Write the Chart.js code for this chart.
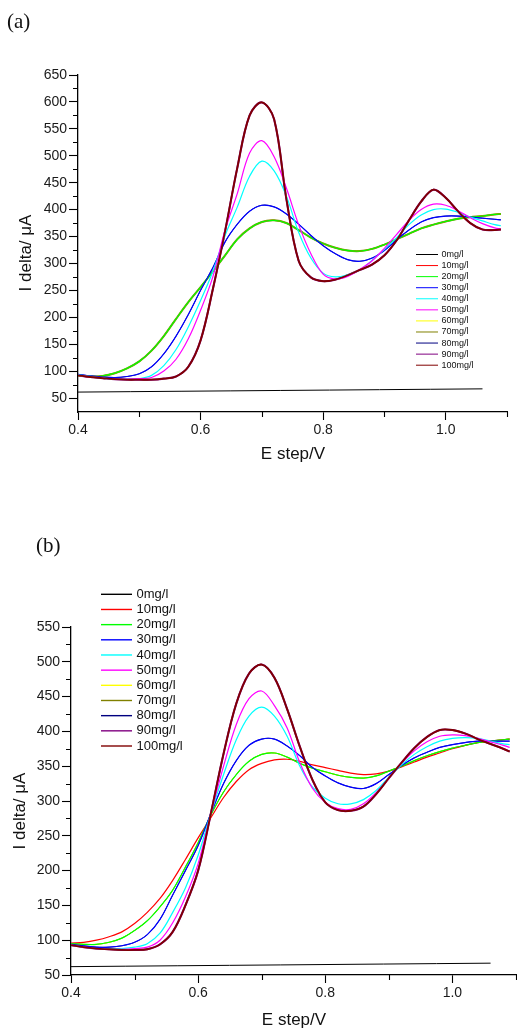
<!DOCTYPE html>
<html>
<head>
<meta charset="utf-8">
<script src="https://cdn.jsdelivr.net/npm/chart.js@4.4.1/dist/chart.umd.min.js"></script>
<style>
  html, body { margin: 0; padding: 0; background: #fff; }
  .wrap { position: relative; width: 517px; height: 1030px; overflow: hidden; }
  .wrap canvas { position: absolute; left: 0; }
  #chart-a { top: 0; }
  #chart-b { top: 520px; }
</style>
</head>
<body>
<div class="wrap">
  <canvas id="chart-a" width="517" height="480"></canvas>
  <canvas id="chart-b" width="517" height="510"></canvas>
</div>
<script>
// E step (V) sample points shared by all curves
const potentials = [0.40, 0.42, 0.44, 0.46, 0.48, 0.50, 0.52, 0.54, 0.56, 0.58, 0.60, 0.62, 0.64, 0.66, 0.68, 0.70, 0.72, 0.74,
  0.76, 0.78, 0.80, 0.82, 0.84, 0.86, 0.88, 0.90, 0.92, 0.94, 0.96, 0.98, 1.00, 1.02, 1.04, 1.06, 1.08, 1.09];
const baselineX = [0.40, 1.06];

const concLabels = ["0mg/l", "10mg/l", "20mg/l", "30mg/l", "40mg/l", "50mg/l", "60mg/l", "70mg/l", "80mg/l", "90mg/l", "100mg/l"];
const concColors = ["#000000", "#ff0000", "#00ff00", "#0000ff", "#00ffff", "#ff00ff", "#ffff00", "#808000", "#000080", "#800080", "#800000"];

// panel (a), I delta (uA)
const aBase = [61, 67];
const a20 = [92, 90, 91, 96, 105, 118, 138, 165, 197, 228, 256, 285, 315, 345, 365, 377, 380, 375,
  362, 348, 337, 329, 324, 323, 327, 335, 345, 355, 365, 372, 378, 383, 386, 388, 391, 392];
const a30 = [94, 91, 89, 88, 90, 95, 108, 132, 165, 205, 250, 292, 340, 373, 397, 408, 405, 392,
  373, 352, 333, 318, 307, 304, 310, 324, 344, 362, 377, 385, 388, 388, 386, 384, 382, 381];
const a40 = [93, 90, 87, 85, 85, 86, 92, 110, 140, 182, 231, 285, 352, 405, 462, 490, 472, 425,
  358, 310, 282, 275, 279, 288, 306, 326, 348, 372, 390, 400, 401, 395, 386, 379, 372, 370];
const a50 = [92, 89, 87, 85, 85, 86, 88, 100, 122, 160, 213, 275, 362, 430, 505, 528, 498, 440,
  372, 318, 280, 271, 276, 289, 305, 328, 354, 380, 400, 410, 408, 398, 385, 374, 366, 364];
const a100 = [92, 89, 87, 85, 84, 84, 84, 86, 90, 108, 157, 252, 360, 478, 575, 599, 568, 420,
  305, 274, 267, 270, 278, 288, 298, 315, 343, 380, 415, 437, 422, 397, 375, 363, 362, 363];

// panel (b), I delta (uA)
const bBase = [62, 67];
const b10 = [96, 97, 100, 105, 112, 124, 140, 160, 186, 216, 247, 276, 305, 328, 345, 354, 359, 360,
  357, 352, 348, 344, 340, 338, 339, 343, 349, 356, 363, 369, 375, 380, 384, 386, 388, 389];
const b20 = [95, 94, 94, 97, 103, 114, 128, 148, 172, 205, 240, 280, 313, 338, 357, 367, 369, 363,
  354, 347, 342, 337, 334, 333, 336, 343, 350, 358, 365, 371, 376, 380, 384, 386, 388, 389];
const b30 = [94, 92, 90, 90, 92, 97, 108, 130, 165, 200, 236, 282, 325, 358, 380, 389, 389, 379,
  365, 348, 336, 326, 320, 318, 325, 338, 351, 362, 370, 377, 381, 384, 386, 386, 386, 386];
const b40 = [93, 90, 88, 88, 88, 90, 95, 110, 140, 175, 222, 282, 338, 388, 422, 435, 422, 393,
  350, 320, 304, 296, 296, 302, 315, 334, 352, 367, 378, 386, 390, 391, 390, 386, 382, 381];
const b50 = [93, 90, 88, 87, 87, 88, 90, 100, 125, 162, 210, 282, 350, 410, 447, 458, 437, 405,
  355, 318, 298, 289, 288, 296, 312, 333, 354, 372, 385, 393, 395, 394, 390, 385, 380, 377];
const b100 = [93, 90, 88, 87, 86, 86, 87, 94, 112, 150, 200, 282, 368, 440, 483, 496, 477, 432,
  378, 330, 298, 287, 286, 292, 310, 333, 355, 376, 392, 402, 402, 397, 389, 382, 375, 371];

// ticks
const xTicks = [0.4, 0.6, 0.8, 1.0];
const xMinor = [0.5, 0.7, 0.9, 1.1];
const yTicksA = [50, 100, 150, 200, 250, 300, 350, 400, 450, 500, 550, 600, 650];
const yMinorA = [75, 125, 175, 225, 275, 325, 375, 425, 475, 525, 575, 625];
const yTicksB = [50, 100, 150, 200, 250, 300, 350, 400, 450, 500, 550];
const yMinorB = [75, 125, 175, 225, 275, 325, 375, 425, 475, 525];

const FONT = "'Liberation Sans', Arial, sans-serif";

// curves that are not visible in the figure lie under another one; they get drawn first
function buildDatasets(series, widths, covered) {
  return concLabels.map((label, i) => {
    const ys = series[i];
    const xs = i === 0 ? baselineX : potentials;
    return {
      label,
      data: ys.map((y, k) => ({ x: xs[k], y })),
      borderColor: concColors[i],
      borderWidth: widths[i],
      pointRadius: 0,
      tension: 0.35,
      order: covered.includes(i) ? 20 : 10 - i
    };
  });
}

const decorPlugin = {
  id: "decor",
  afterDraw(chart, args, opts) {
    const ctx = chart.ctx;
    const xs = chart.scales.x, ys = chart.scales.y;
    ctx.save();
    ctx.strokeStyle = "#000";
    ctx.lineWidth = 1.1;
    ctx.beginPath();
    for (const v of opts.minorX) {
      const px = Math.round(xs.getPixelForValue(v)) + 0.5;
      ctx.moveTo(px, ys.bottom);
      ctx.lineTo(px, ys.bottom + 5);
    }
    for (const v of opts.minorY) {
      const py = Math.round(ys.getPixelForValue(v)) + 0.5;
      ctx.moveTo(xs.left - 5, py);
      ctx.lineTo(xs.left, py);
    }
    ctx.stroke();

    // legend, inside the plot like the original
    const lg = opts.legend;
    ctx.font = lg.font;
    ctx.textBaseline = "middle";
    ctx.textAlign = "left";
    chart.data.datasets.forEach((ds, i) => {
      const y = lg.y + i * lg.dy;
      ctx.strokeStyle = ds.borderColor;
      ctx.lineWidth = lg.lineWidth;
      ctx.beginPath();
      ctx.moveTo(lg.x0, y);
      ctx.lineTo(lg.x1, y);
      ctx.stroke();
      ctx.fillStyle = "#111";
      ctx.fillText(ds.label, lg.textX, y);
    });

    for (const t of opts.texts) {
      ctx.save();
      ctx.font = t.font;
      ctx.fillStyle = "#111";
      ctx.textAlign = t.align || "center";
      ctx.textBaseline = t.baseline || "middle";
      ctx.translate(t.x, t.y);
      if (t.rotate) ctx.rotate(t.rotate);
      ctx.fillText(t.text, 0, 0);
      ctx.restore();
    }
    ctx.restore();
  }
};

function buildChart(id, cfg) {
  const canvas = document.getElementById(id);
  return new Chart(canvas, {
    type: "line",
    data: { datasets: buildDatasets(cfg.series, cfg.widths, cfg.covered) },
    plugins: [decorPlugin],
    options: {
      responsive: false,
      animation: false,
      devicePixelRatio: 1,
      layout: { padding: cfg.padding },
      plugins: {
        legend: { display: false },
        tooltip: { enabled: false },
        decor: {
          minorX: xMinor,
          minorY: cfg.yMinor,
          legend: cfg.legend,
          texts: cfg.texts
        }
      },
      scales: {
        x: {
          type: "linear",
          min: 0.4,
          max: 1.1,
          afterBuildTicks: (s) => { s.ticks = xTicks.map((v) => ({ value: v })); },
          afterFit: (s) => { s.height = 30; },
          border: { color: "#000", width: 1.3 },
          grid: { drawOnChartArea: false, tickLength: 8, tickColor: "#000", tickWidth: 1.1 },
          ticks: {
            color: "#1a1a1a", padding: 2, maxRotation: 0, autoSkip: false,
            font: { family: FONT, size: 14 },
            callback: (v) => Number(v).toFixed(1)
          }
        },
        y: {
          type: "linear",
          min: cfg.yMin,
          max: cfg.yMax,
          afterBuildTicks: (s) => { s.ticks = cfg.yTicks.map((v) => ({ value: v })); },
          afterFit: (s) => { s.width = cfg.yWidth; },
          border: { color: "#000", width: 1.3 },
          grid: { drawOnChartArea: false, tickLength: 9, tickColor: "#000", tickWidth: 1.1 },
          ticks: {
            color: "#1a1a1a", padding: 2, autoSkip: false,
            font: { family: FONT, size: 14 }
          }
        }
      }
    }
  });
}

document.addEventListener("DOMContentLoaded", () => {
  // (a): 10, 60, 70 lie under 20; 80 under 30; 90 under 100
  buildChart("chart-a", {
    series: [aBase, a20, a20, a30, a40, a50, a20, a20, a30, a100, a100],
    widths: [1, 1.0, 1.3, 1.2, 1.2, 1.2, 1.0, 2.0, 0.9, 2.1, 1.8],
    covered: [1, 6, 7, 8, 9],
    padding: { left: 0, right: 10, top: 75, bottom: 38 },
    yMin: 24, yMax: 650, yTicks: yTicksA, yMinor: yMinorA, yWidth: 78,
    legend: { x0: 416, x1: 438, textX: 441.5, y: 254.5, dy: 11.07, font: "9px " + FONT, lineWidth: 1 },
    texts: [
      { text: "(a)", x: 7, y: 22, align: "left", font: "21px 'Liberation Serif', 'Times New Roman', serif" },
      { text: "I delta/ \u03bcA", x: 26, y: 253, rotate: -Math.PI / 2, font: "17px " + FONT },
      { text: "E step/V", x: 293, y: 459, baseline: "alphabetic", font: "17px " + FONT }
    ]
  });

  // (b): 60, 70 lie under 20; 80 under 30; 90 under 100
  buildChart("chart-b", {
    series: [bBase, b10, b20, b30, b40, b50, b20, b20, b30, b100, b100],
    widths: [1, 1.2, 1.2, 1.2, 1.2, 1.2, 1.0, 1.0, 0.9, 2.1, 1.8],
    covered: [6, 7, 8, 9],
    padding: { left: 0, right: 1, top: 107, bottom: 25 },
    yMin: 50, yMax: 550, yTicks: yTicksB, yMinor: yMinorB, yWidth: 71,
    legend: { x0: 101, x1: 132, textX: 136.5, y: 74.3, dy: 15.17, font: "13px " + FONT, lineWidth: 1.4 },
    texts: [
      { text: "(b)", x: 36, y: 26, align: "left", font: "21px 'Liberation Serif', 'Times New Roman', serif" },
      { text: "I delta/ \u03bcA", x: 20, y: 291, rotate: -Math.PI / 2, font: "17px " + FONT },
      { text: "E step/V", x: 294, y: 505, baseline: "alphabetic", font: "17px " + FONT }
    ]
  });
});
</script>
</body>
</html>
